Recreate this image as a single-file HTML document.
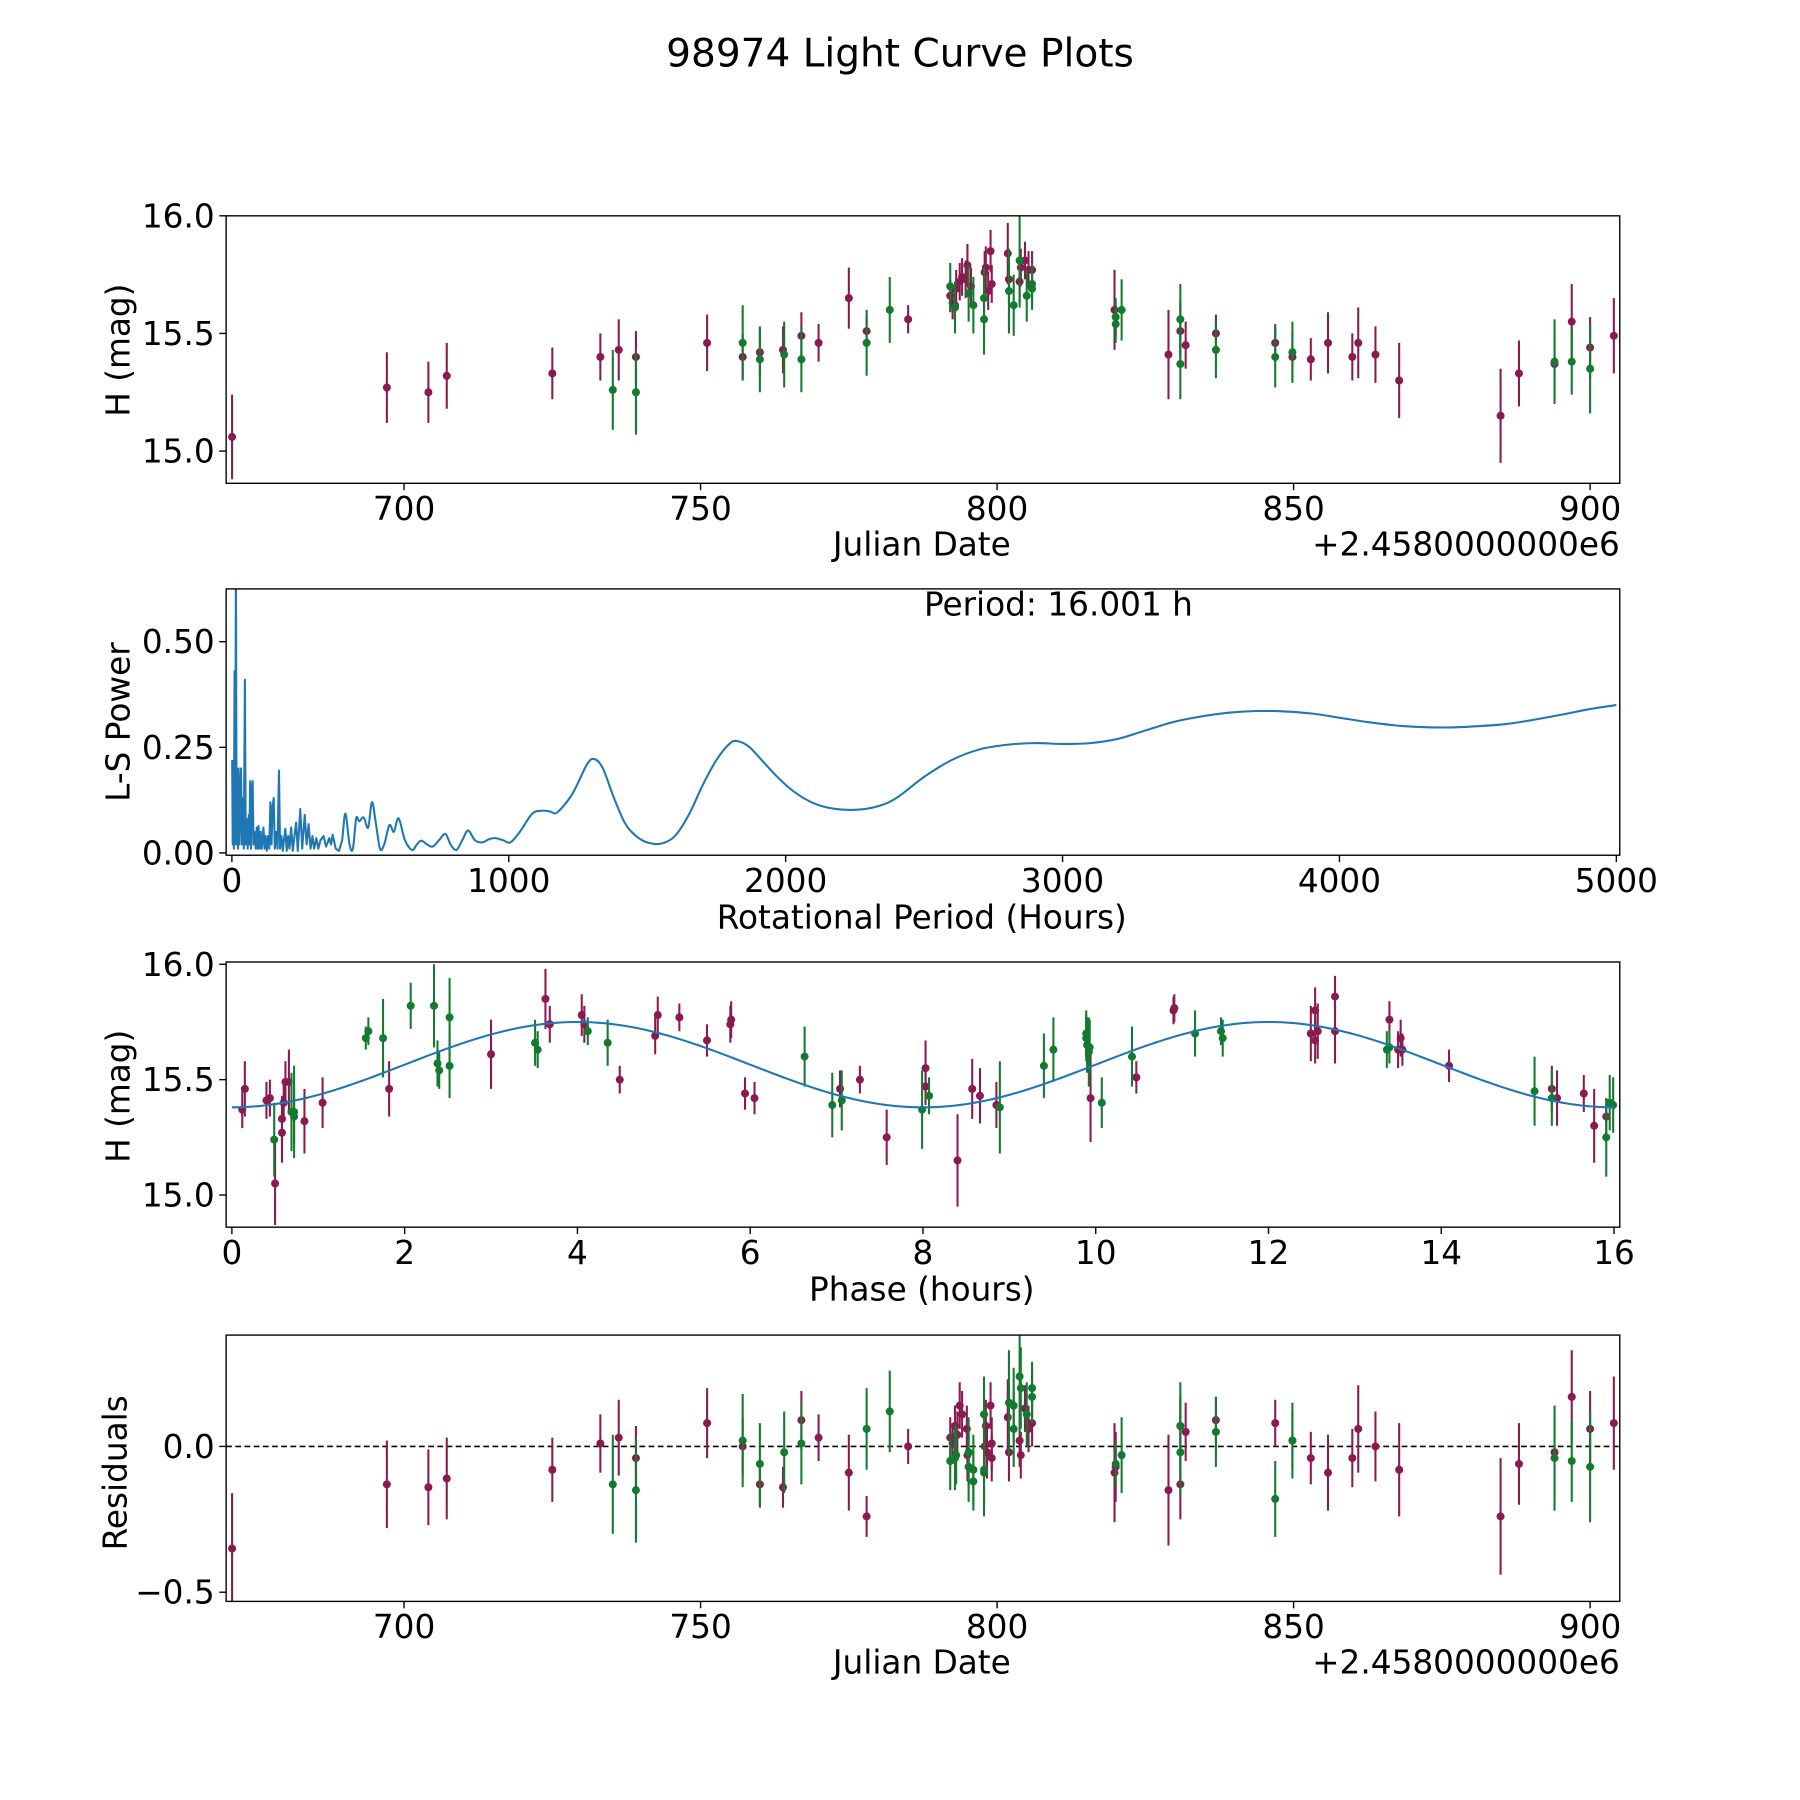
<!DOCTYPE html>
<html><head><meta charset="utf-8"><style>
html,body{margin:0;padding:0;background:#fff}
svg{display:block}
text{font-family:"DejaVu Sans","Liberation Sans",sans-serif;fill:#000}
</style></head><body>
<svg id="fig" width="1800" height="1800" viewBox="0 0 1568 1568" xmlns="http://www.w3.org/2000/svg">
<rect width="1568" height="1568" fill="#fff"/>
<text x="784" y="58" font-size="34" text-anchor="middle">98974 Light Curve Plots</text>
<g id="root"></g>
</svg>
<script>
// ---------- Panel 1: raw light curve (JD offset, H, error) ----------
const lcMaroonJD = [671.0,697.1,704.1,707.2,725.0,733.1,736.2,739.1,751.1,757.1,760.0,763.9,767.0,769.9,775.0,778.0,785.0,792.1,792.5,792.9,793.1,793.7,794.1,794.7,795.0,795.6,797.9,798.1,798.5,798.9,799.1,801.8,802.0,803.8,804.0,804.7,805.3,805.9,819.8,828.9,830.9,831.8,836.9,846.9,849.8,852.9,855.8,859.9,860.9,863.8,867.8,884.9,888.0,894.0,896.9,900.0,904.0];
const lcMaroonH = [15.06,15.27,15.25,15.32,15.33,15.40,15.43,15.40,15.46,15.40,15.42,15.43,15.49,15.46,15.65,15.51,15.56,15.66,15.63,15.62,15.69,15.72,15.74,15.73,15.79,15.70,15.76,15.78,15.68,15.85,15.71,15.84,15.73,15.72,15.78,15.81,15.77,15.77,15.60,15.41,15.51,15.45,15.50,15.46,15.40,15.39,15.46,15.40,15.46,15.41,15.30,15.15,15.33,15.37,15.55,15.44,15.49];
const lcMaroonErr = [0.18,0.15,0.13,0.14,0.11,0.10,0.13,0.11,0.12,0.10,0.10,0.10,0.10,0.08,0.13,0.07,0.06,0.07,0.07,0.07,0.08,0.08,0.08,0.08,0.09,0.08,0.09,0.09,0.08,0.09,0.08,0.13,0.10,0.09,0.08,0.08,0.08,0.08,0.17,0.19,0.12,0.10,0.08,0.08,0.10,0.09,0.13,0.10,0.15,0.12,0.16,0.20,0.14,0.14,0.16,0.13,0.16];
const lcGreenJD = [735.2,739.1,757.1,760.0,764.1,767.0,778.0,781.9,792.1,792.9,795.2,796.0,797.8,797.8,802.0,802.8,803.8,805.0,805.9,805.9,820.0,820.0,821.0,830.9,830.9,836.9,846.9,849.8,894.0,896.9,900.0];
const lcGreenH = [15.26,15.25,15.46,15.39,15.41,15.39,15.46,15.60,15.70,15.61,15.67,15.62,15.65,15.56,15.68,15.62,15.81,15.66,15.69,15.71,15.54,15.57,15.60,15.56,15.37,15.43,15.40,15.42,15.38,15.38,15.35];
const lcGreenErr = [0.17,0.18,0.16,0.14,0.14,0.14,0.14,0.14,0.10,0.11,0.12,0.12,0.13,0.15,0.18,0.13,0.20,0.11,0.09,0.09,0.08,0.08,0.13,0.15,0.15,0.12,0.13,0.13,0.18,0.14,0.19];
// ---------- Panel 2: Lomb-Scargle periodogram ----------
const lsPeriod = [1,3,5,7,9.6,12,14.5,17,20,22,24,27,30,33,36,40,43,47,50,54,57,61,63,66,69,72,75,78,82,86,90,93,96,100,104,108,114,118,122,126,131,135,139,143,147,151,155,160,165,170,174,179,184,188,193,198,203,208,214,220,226,232,238,247,254,263,270,277,284,291,297,305,312,320,331,340,352,358,364,375,387,398,410,425,437,449,460,476,492,506,520,535,550,569,585,602,625,651,668,684,705,725,748,771,790,811,832,853,878,904,930,952,980,1006,1040,1085,1121,1150,1175,1229,1283,1310,1340,1380,1420,1460,1500,1550,1600,1650,1700,1750,1800,1830,1870,1920,1970,2030,2100,2170,2250,2330,2400,2500,2600,2700,2800,2900,3000,3100,3200,3300,3400,3500,3600,3700,3800,3900,4000,4100,4200,4300,4400,4500,4600,4700,4800,4900,5000];
const lsPower = [0.22,0.02,0.20,0.01,0.43,0.02,0.70,0.02,0.19,0.01,0.20,0.02,0.15,0.20,0.02,0.13,0.01,0.41,0.02,0.08,0.01,0.09,0.02,0.17,0.01,0.15,0.17,0.02,0.05,0.01,0.06,0.01,0.064,0.01,0.05,0.01,0.06,0.01,0.04,0.005,0.04,0.01,0.12,0.02,0.11,0.13,0.01,0.05,0.01,0.195,0.01,0.04,0.005,0.03,0.057,0.005,0.04,0.01,0.06,0.005,0.04,0.072,0.005,0.104,0.01,0.09,0.02,0.068,0.01,0.04,0.01,0.035,0.01,0.03,0.04,0.015,0.035,0.02,0.043,0.01,0.005,0.03,0.093,0.02,0.01,0.082,0.075,0.084,0.06,0.12,0.07,0.01,0.02,0.066,0.05,0.082,0.03,0.007,0.02,0.029,0.02,0.015,0.03,0.045,0.02,0.007,0.03,0.053,0.03,0.025,0.033,0.035,0.03,0.025,0.05,0.093,0.10,0.098,0.096,0.139,0.21,0.222,0.20,0.13,0.07,0.04,0.025,0.022,0.04,0.09,0.16,0.22,0.26,0.264,0.25,0.215,0.18,0.145,0.118,0.105,0.102,0.11,0.13,0.18,0.22,0.245,0.256,0.26,0.258,0.26,0.27,0.29,0.31,0.323,0.332,0.336,0.335,0.33,0.32,0.31,0.302,0.298,0.297,0.30,0.305,0.315,0.327,0.34,0.35];
// ---------- Panel 3: phase-folded ----------
const phMaroonP = [0.12,0.15,0.40,0.44,0.50,0.58,0.58,0.60,0.62,0.66,0.84,1.05,1.82,3.0,3.63,3.68,4.05,4.08,4.49,4.90,4.93,5.18,5.50,5.77,5.78,5.94,6.05,7.04,7.27,7.58,8.03,8.03,8.40,8.57,8.66,8.85,9.94,10.47,10.90,10.91,12.49,12.54,12.54,12.57,12.77,12.77,13.40,13.50,13.53,13.55,14.09,15.28,15.34,15.65,15.77,15.91];
const phMaroonH = [15.37,15.46,15.41,15.42,15.05,15.33,15.27,15.40,15.49,15.49,15.32,15.40,15.46,15.61,15.85,15.74,15.78,15.74,15.50,15.69,15.78,15.77,15.67,15.74,15.76,15.44,15.42,15.46,15.50,15.25,15.55,15.47,15.15,15.46,15.43,15.39,15.42,15.51,15.80,15.81,15.70,15.67,15.80,15.71,15.86,15.71,15.76,15.63,15.68,15.63,15.56,15.46,15.42,15.44,15.30,15.34];
const phMaroonErr = [0.08,0.12,0.08,0.08,0.18,0.10,0.13,0.08,0.09,0.14,0.14,0.11,0.12,0.15,0.13,0.08,0.09,0.08,0.06,0.08,0.08,0.06,0.07,0.08,0.08,0.07,0.07,0.08,0.06,0.12,0.12,0.08,0.20,0.13,0.12,0.10,0.19,0.07,0.06,0.06,0.12,0.10,0.10,0.12,0.09,0.14,0.08,0.08,0.08,0.07,0.07,0.10,0.12,0.08,0.16,0.08];
const phGreenP = [0.49,0.69,0.72,0.72,1.55,1.58,1.75,2.07,2.34,2.38,2.40,2.52,2.52,3.51,3.54,4.12,4.35,6.63,6.95,7.06,7.99,8.07,8.89,9.40,9.51,9.89,9.89,9.90,9.92,9.93,10.07,10.42,11.15,11.45,11.47,13.37,13.40,15.08,15.28,15.91,15.95,15.99];
const phGreenH = [15.24,15.36,15.36,15.34,15.68,15.71,15.68,15.82,15.82,15.57,15.54,15.77,15.56,15.66,15.63,15.71,15.66,15.60,15.39,15.41,15.37,15.43,15.38,15.56,15.63,15.70,15.68,15.65,15.62,15.64,15.40,15.60,15.70,15.71,15.68,15.63,15.64,15.45,15.42,15.25,15.40,15.39];
const phGreenErr = [0.16,0.17,0.20,0.12,0.05,0.06,0.17,0.10,0.18,0.10,0.08,0.17,0.14,0.10,0.08,0.06,0.10,0.13,0.14,0.13,0.17,0.08,0.20,0.14,0.14,0.10,0.10,0.12,0.15,0.12,0.11,0.13,0.10,0.06,0.08,0.08,0.07,0.15,0.12,0.17,0.12,0.12];
const fitMean = 15.565, fitAmp = 0.185, fitPeriod = 8;
// ---------- Panel 4: residuals ----------
const resMaroonJD = [671.0,697.1,704.1,707.2,725.0,733.1,736.2,739.1,751.1,757.1,760.0,763.9,767.0,769.9,775.0,778.0,785.0,792.1,792.5,792.9,793.3,793.7,794.1,794.9,795.0,797.9,798.1,798.3,798.9,799.1,799.1,801.8,802.0,803.8,804.0,804.7,805.3,805.9,819.8,820.0,828.9,830.9,830.9,831.8,836.9,846.9,849.8,852.9,855.8,859.9,860.9,863.8,867.8,884.9,888.0,894.0,896.9,900.0,904.0];
const resMaroon = [-0.35,-0.13,-0.14,-0.11,-0.08,0.01,0.03,-0.04,0.08,0.00,-0.13,-0.14,0.09,0.03,-0.09,-0.24,0.00,0.03,0.01,0.07,0.04,0.14,0.11,0.06,-0.03,0.00,0.07,-0.02,0.14,0.01,-0.04,0.10,-0.02,0.02,-0.03,0.13,0.06,0.08,-0.09,-0.07,-0.15,-0.13,0.07,0.05,0.09,0.08,0.02,-0.04,-0.09,-0.04,0.06,0.00,-0.08,-0.24,-0.06,-0.02,0.17,0.06,0.08];
const resMaroonErr = [0.19,0.15,0.13,0.14,0.11,0.10,0.13,0.11,0.12,0.10,0.08,0.07,0.10,0.08,0.13,0.07,0.06,0.07,0.07,0.07,0.08,0.08,0.08,0.08,0.09,0.08,0.09,0.09,0.08,0.09,0.08,0.13,0.10,0.09,0.08,0.08,0.08,0.08,0.17,0.12,0.19,0.12,0.10,0.10,0.08,0.08,0.10,0.09,0.13,0.10,0.15,0.12,0.16,0.20,0.14,0.14,0.16,0.13,0.16];
const resGreenJD = [735.2,739.1,757.1,760.0,764.1,767.0,778.0,781.9,792.1,792.9,793.1,795.2,795.2,796.0,796.0,797.8,797.8,797.8,802.0,802.8,802.8,803.8,804.0,805.0,805.9,805.9,820.0,821.0,830.9,830.9,836.9,846.9,849.8,894.0,896.9,900.0];
const resGreen = [-0.13,-0.15,0.02,-0.06,-0.02,0.01,0.06,0.12,-0.05,-0.04,-0.03,-0.02,-0.07,-0.08,-0.12,-0.08,-0.09,0.11,0.15,0.14,0.06,0.24,0.20,0.11,0.20,0.17,-0.06,-0.03,0.07,-0.02,0.05,-0.18,0.02,-0.04,-0.05,-0.07];
const resGreenErr = [0.17,0.18,0.16,0.14,0.14,0.14,0.14,0.14,0.10,0.11,0.10,0.12,0.12,0.12,0.10,0.13,0.15,0.13,0.18,0.13,0.13,0.20,0.14,0.11,0.09,0.09,0.08,0.13,0.15,0.15,0.12,0.13,0.13,0.18,0.14,0.19];
const jdTicks = [700,750,800,850,900];
const hTicks = [15.0,15.5,16.0];
const lsXTicks = [0,1000,2000,3000,4000,5000];
const lsYTicks = [0.00,0.25,0.50];
const phTicks = [0,2,4,6,8,10,12,14,16];
const resTicks = [-0.5,0.0];

const NS='http://www.w3.org/2000/svg';
const root=document.getElementById('root');
const MAROON='#8a1a50', GREEN='#137a2f', BLUE='#1f77b4';
const FS=28.5;
function mk(tag,attrs,parent){const e=document.createElementNS(NS,tag);for(const k in attrs)e.setAttribute(k,attrs[k]);(parent||root).appendChild(e);return e;}
function lin(d0,d1,p0,p1){return v=>p0+(v-d0)*(p1-p0)/(d1-d0);}

const L=197,R=1411;
function frame(g,top,bot){const r=mk('rect',{x:L,y:top,width:R-L,height:bot-top,fill:'none',stroke:'#000','stroke-width':1.2},g);

}
function xticks(g,ticks,sx,bot,fmt){ticks.forEach(t=>{const x=sx(t);mk('line',{x1:x,x2:x,y1:bot,y2:bot+6,stroke:'#000','stroke-width':1.2},g);
const tx=mk('text',{x:x,y:bot+32,'font-size':FS,'text-anchor':'middle'},g);tx.textContent=fmt(t);

});}
function yticks(g,ticks,sy,fmt){ticks.forEach(t=>{const y=sy(t);mk('line',{x1:L-6,x2:L,y1:y,y2:y,stroke:'#000','stroke-width':1.2},g);
const tx=mk('text',{x:L-10,y:y+10,'font-size':FS,'text-anchor':'end'},g);tx.textContent=fmt(t);

});}
function label(g,txt,x,y,rot,name,anchor){const t=mk('text',{x:x,y:y,'font-size':FS,'text-anchor':anchor||'middle'},g);
if(rot)t.setAttribute('transform','rotate(-90 '+x+' '+y+')');t.textContent=txt;

}
function errpts(g,xs,ys,es,sx,sy,col,name){xs.forEach((xv,i)=>{const x=sx(xv);
const ln=mk('line',{x1:x,x2:x,y1:sy(ys[i]-es[i]),y2:sy(ys[i]+es[i]),stroke:col,'stroke-width':1.8},g);


const c=mk('circle',{cx:x,cy:sy(ys[i]),r:3.5,fill:col},g);

});}
function clip(id,top,bot){const d=mk('clipPath',{id:id});mk('rect',{x:L,y:top,width:R-L,height:bot-top},d);}
const f1=v=>v.toFixed(1);

// Panel 1
(function(){const top=188,bot=421;const g=mk('g',{});
const sx=lin(670,905,L,R), sy=lin(16.0,14.863,top,bot);clip('c1',top,bot);
const pg=mk('g',{'clip-path':'url(#c1)'},g);
errpts(pg,lcMaroonJD,lcMaroonH,lcMaroonErr,sx,sy,MAROON,'maroon-filter');
errpts(pg,lcGreenJD,lcGreenH,lcGreenErr,sx,sy,GREEN,'green-filter');
frame(g,top,bot);xticks(g,jdTicks,sx,bot,String);yticks(g,hTicks,sy,f1);
label(g,'Julian Date',803,484,false,'x-axis-title');label(g,'+2.4580000000e6',R,484,false,'x-offset-label','end');
label(g,'H (mag)',113,305,true,'y-axis-title');})();

// Panel 2
(function(){const top=513,bot=745;const g=mk('g',{});
const sx=lin(0,5000,202,1408), sy=lin(0,0.25,743,651);clip('c2',top,bot);
const pts=lsPeriod.map((p,i)=>[sx(p),sy(lsPower[i])]);
let d='M'+pts[0][0]+','+pts[0][1];
for(let i=0;i<pts.length-1;i++){const p0=pts[Math.max(0,i-1)],p1=pts[i],p2=pts[i+1],p3=pts[Math.min(pts.length-1,i+2)];
if(lsPeriod[i]<390){d+=' L'+p2[0].toFixed(2)+','+p2[1].toFixed(2);continue;}
const c1=[p1[0]+(p2[0]-p0[0])/6,p1[1]+(p2[1]-p0[1])/6],c2=[p2[0]-(p3[0]-p1[0])/6,p2[1]-(p3[1]-p1[1])/6];
d+=' C'+c1.map(v=>v.toFixed(2)).join(',')+' '+c2.map(v=>v.toFixed(2)).join(',')+' '+p2[0].toFixed(2)+','+p2[1].toFixed(2);}
const path=mk('path',{d:d,fill:'none',stroke:BLUE,'stroke-width':1.8,'stroke-linejoin':'round','clip-path':'url(#c2)'},g);


frame(g,top,bot);xticks(g,lsXTicks,sx,bot,String);yticks(g,lsYTicks,sy,v=>v.toFixed(2));
label(g,'Rotational Period (Hours)',803,809,false,'x-axis-title');label(g,'L-S Power',113,629,true,'y-axis-title');
label(g,'Period: 16.001 h',922,536,false,'period-annotation');})();

// Panel 3
(function(){const top=838,bot=1069;const g=mk('g',{});
const sx=lin(0,16,202,1406), sy=lin(16.0,15.0,840,1041);clip('c3',top,bot);
const pg=mk('g',{'clip-path':'url(#c3)'},g);
errpts(pg,phMaroonP,phMaroonH,phMaroonErr,sx,sy,MAROON,'maroon-phase');
errpts(pg,phGreenP,phGreenH,phGreenErr,sx,sy,GREEN,'green-phase');
let d='';for(let i=0;i<=320;i++){const p=16*i/320;const h=fitMean-fitAmp*Math.cos(2*Math.PI*p/fitPeriod);d+=(i?' L':'M')+sx(p).toFixed(2)+','+sy(h).toFixed(2);}
const fl=mk('path',{d:d,fill:'none',stroke:BLUE,'stroke-width':1.8},pg);


frame(g,top,bot);xticks(g,phTicks,sx,bot,String);yticks(g,hTicks,sy,f1);
label(g,'Phase (hours)',803,1133,false,'x-axis-title');label(g,'H (mag)',113,955,true,'y-axis-title');})();

// Panel 4
(function(){const top=1163,bot=1395;const g=mk('g',{});
const sx=lin(670,905,L,R), sy=lin(0,-0.5,1260,1387);clip('c4',top,bot);
const pg=mk('g',{'clip-path':'url(#c4)'},g);
const zl=mk('line',{x1:L,x2:R,y1:sy(0),y2:sy(0),stroke:'#000','stroke-width':1.5,'stroke-dasharray':'5,3'},pg);


errpts(pg,resMaroonJD,resMaroon,resMaroonErr,sx,sy,MAROON,'maroon-residual');
errpts(pg,resGreenJD,resGreen,resGreenErr,sx,sy,GREEN,'green-residual');
frame(g,top,bot);xticks(g,jdTicks,sx,bot,String);yticks(g,resTicks,sy,v=>(v<0?'\u2212':'')+Math.abs(v).toFixed(1));
label(g,'Julian Date',803,1458,false,'x-axis-title');label(g,'+2.4580000000e6',R,1458,false,'x-offset-label','end');
label(g,'Residuals',110,1283,true,'y-axis-title');})();
</script>
</body></html>
